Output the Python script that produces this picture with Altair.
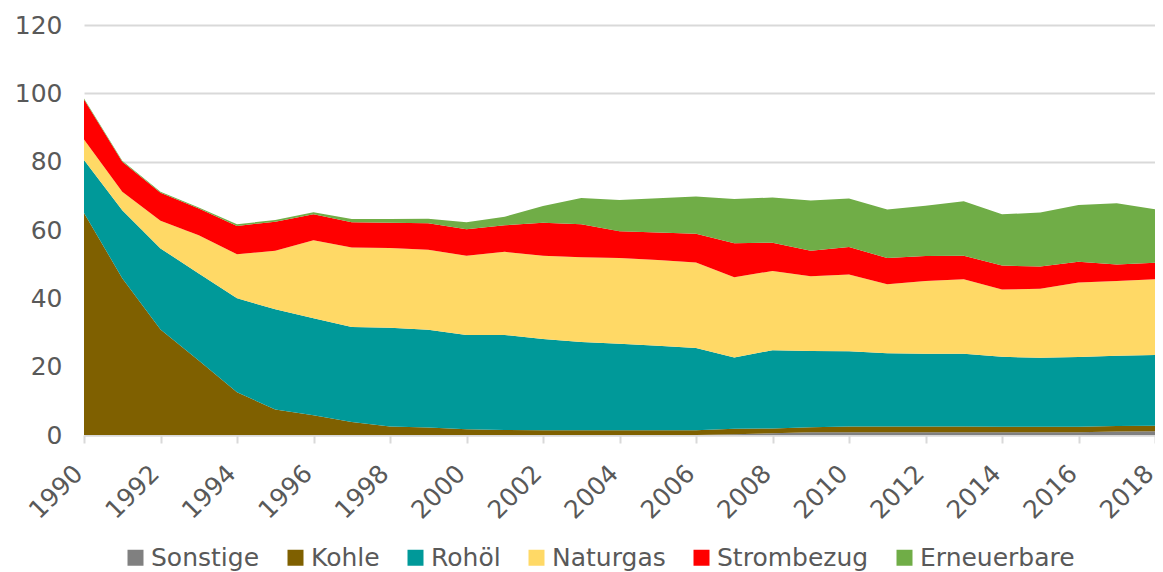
import altair as alt
import pandas as pd

years = list(range(1990, 2019))
series_names = ["Sonstige", "Kohle", "Rohöl", "Naturgas", "Strombezug", "Erneuerbare"]
colors = ["#808080", "#7F6000", "#009999", "#FFD966", "#FF0000", "#70AD47"]

sonstige = [0]*17 + [0.2, 0.5, 0.8, 0.8, 0.8, 0.8, 0.8, 0.8, 0.8, 0.8, 1.0, 1.1]
kohle = [65.0, 45.9, 30.9, 21.8, 12.5, 7.5, 5.8, 3.8, 2.5, 2.2, 1.7, 1.5, 1.4, 1.4, 1.4,
         1.4, 1.4, 1.6, 1.4, 1.5, 1.7, 1.7, 1.7, 1.7, 1.6, 1.6, 1.6, 1.6, 1.6]
rohoel = [15.5, 19.9, 23.7, 25.5, 27.5, 29.3, 28.4, 27.8, 28.9, 28.6, 27.6, 27.8, 26.7, 25.8, 25.3,
          24.7, 24.1, 20.9, 22.9, 22.3, 22.0, 21.4, 21.3, 21.3, 20.5, 20.2, 20.4, 20.6, 20.7]
naturgas = [6.0, 5.4, 8.1, 11.2, 12.9, 17.1, 22.8, 23.3, 23.3, 23.4, 23.2, 24.3, 24.4, 24.8, 25.1,
            25.1, 25.0, 23.5, 23.2, 21.9, 22.5, 20.2, 21.3, 21.8, 19.7, 20.2, 21.8, 21.9, 22.2]
strombezug = [11.7, 8.8, 8.2, 7.8, 8.3, 8.5, 7.6, 7.4, 7.4, 7.8, 7.7, 7.8, 9.6, 9.7, 7.8,
              8.1, 8.4, 9.9, 8.3, 7.4, 8.0, 7.7, 7.3, 6.9, 7.0, 6.5, 6.1, 4.8, 4.8]
erneuerbare = [0.3, 0.3, 0.3, 0.3, 0.5, 0.5, 0.6, 0.9, 1.1, 1.3, 2.1, 2.5, 4.9, 7.7, 9.2,
               10.0, 10.9, 13.0, 13.2, 14.7, 14.2, 14.2, 14.7, 15.9, 15.0, 15.8, 16.6, 17.9, 15.7]

all_series = [sonstige, kohle, rohoel, naturgas, strombezug, erneuerbare]
rows = []
for i, (name, vals) in enumerate(zip(series_names, all_series)):
    for y, v in zip(years, vals):
        rows.append({"Jahr": y, "Wert": v, "Quelle": name, "ord": i})
df = pd.DataFrame(rows)

FONT = "DejaVu Sans"
TXT = "#595959"

chart = alt.Chart(df).mark_area(opacity=1).encode(
    x=alt.X("Jahr:Q",
            scale=alt.Scale(domain=[1990, 2018], nice=False, zero=False),
            axis=alt.Axis(values=list(range(1990, 2019, 2)), format="d", title=None,
                          labelAngle=-45, labelAlign="right", labelBaseline="middle",
                          labelFontSize=25, labelColor=TXT, labelFont=FONT,
                          labelPadding=26, labelOffset=-6,
                          grid=False, domainColor="#d9d9d9", domainWidth=2,
                          tickColor="#d9d9d9", tickSize=8, tickWidth=2,
                          labelOverlap=False, labelBound=False, labelFlush=False)),
    y=alt.Y("Wert:Q", stack="zero",
            scale=alt.Scale(domain=[0, 120], nice=False),
            axis=alt.Axis(values=list(range(0, 121, 20)), title=None,
                          labelFontSize=25, labelColor=TXT, labelFont=FONT,
                          labelPadding=22, domain=False, ticks=False,
                          gridColor="#d9d9d9", gridWidth=2)),
    color=alt.Color("Quelle:N",
                    scale=alt.Scale(domain=series_names, range=colors),
                    legend=alt.Legend(title=None, orient="none", direction="horizontal",
                                      legendX=39, legendY=520,
                                      symbolType="square", symbolSize=256,
                                      symbolStrokeWidth=0,
                                      labelFontSize=25, labelColor=TXT, labelFont=FONT,
                                      columnPadding=23, labelOffset=3,
                                      symbolOpacity=1)),
    order=alt.Order("ord:Q", sort="ascending"),
).properties(
    width=1071, height=410,
    autosize=alt.AutoSizeParams(type="none"),
    padding={"left": 76, "top": 17, "right": 0, "bottom": 150},
).configure_view(stroke=None)

chart.save("out.html", embed_options={"renderer": "svg", "actions": False})
